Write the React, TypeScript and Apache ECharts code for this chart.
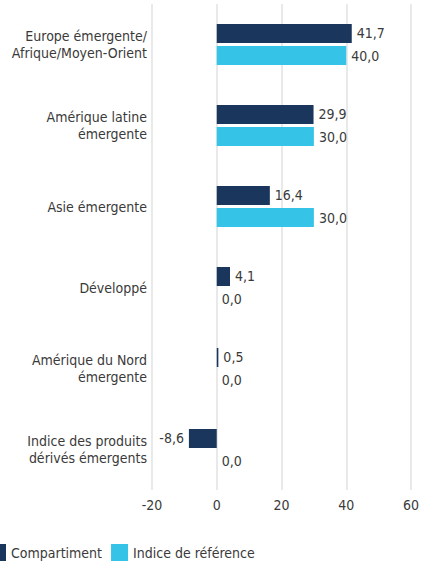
import React, { useEffect, useRef } from "react";
import * as echarts from "echarts";

const categories = [
  "Europe émergente/\nAfrique/Moyen-Orient",
  "Amérique latine\némergente",
  "Asie émergente",
  "Développé",
  "Amérique du Nord\némergente",
  "Indice des produits\ndérivés émergents",
];
const compartiment = [41.7, 29.9, 16.4, 4.1, 0.5, -8.6];
const indice = [40.0, 30.0, 30.0, 0.0, 0.0, 0.0];
const seriesNames = ["Compartiment", "Indice de référence"];
const xTicks = { min: -20, max: 60, interval: 20 };

const FONT = "'Liberation Sans Narrow', 'DejaVu Sans Condensed', 'DejaVu Sans', sans-serif";
const TEXT = "#3a3a3a";

const fmt = (v: number) => v.toFixed(1).replace(".", ",");

export default function App() {
  const ref = useRef<HTMLDivElement>(null);
  useEffect(() => {
    if (!ref.current) return;
    const chart = echarts.init(ref.current, undefined, { renderer: "svg" });
    const mk = (vals: number[]) =>
      vals.map((v) => ({
        value: v,
        label: { position: v < 0 ? "left" : "right" },
      }));
    chart.setOption({
      animation: false,
      textStyle: { fontFamily: FONT },
      grid: { left: 152, right: 20, top: 4, bottom: 75, containLabel: false },
      legend: {
        left: -11,
        top: 544,
        itemWidth: 17,
        itemHeight: 17,
        itemGap: 9,
        padding: 0,
        icon: "rect",
        textStyle: { fontFamily: FONT, fontSize: 14, color: TEXT, lineHeight: 17 },
        data: seriesNames,
      },
      xAxis: {
        type: "value",
        min: xTicks.min,
        max: xTicks.max,
        interval: xTicks.interval,
        axisLine: { show: false },
        axisTick: { show: false },
        splitLine: { show: true, lineStyle: { color: "#e9e9e9", width: 2 } },
        axisLabel: { fontFamily: FONT, fontSize: 14, color: TEXT, margin: 8 },
      },
      yAxis: {
        type: "category",
        inverse: true,
        data: categories,
        axisLine: { show: false },
        axisTick: { show: false },
        axisLabel: { fontFamily: FONT, fontSize: 14, color: TEXT, margin: 5, lineHeight: 17, align: "right" },
      },
      series: [
        {
          name: seriesNames[0],
          type: "bar",
          data: mk(compartiment),
          barWidth: 19,
          barGap: "16%",
          itemStyle: { color: "#1b365d" },
          label: { show: true, formatter: (p: any) => fmt(p.value), fontFamily: FONT, fontSize: 14, color: TEXT, distance: 5 },
        },
        {
          name: seriesNames[1],
          type: "bar",
          data: mk(indice),
          barWidth: 19,
          itemStyle: { color: "#35c3e8" },
          label: { show: true, formatter: (p: any) => fmt(p.value), fontFamily: FONT, fontSize: 14, color: TEXT, distance: 5 },
        },
      ],
    });
    return () => chart.dispose();
  }, []);
  return <div ref={ref} style={{ width: 431, height: 565, position: "absolute", left: 0, top: 0 }} />;
}
